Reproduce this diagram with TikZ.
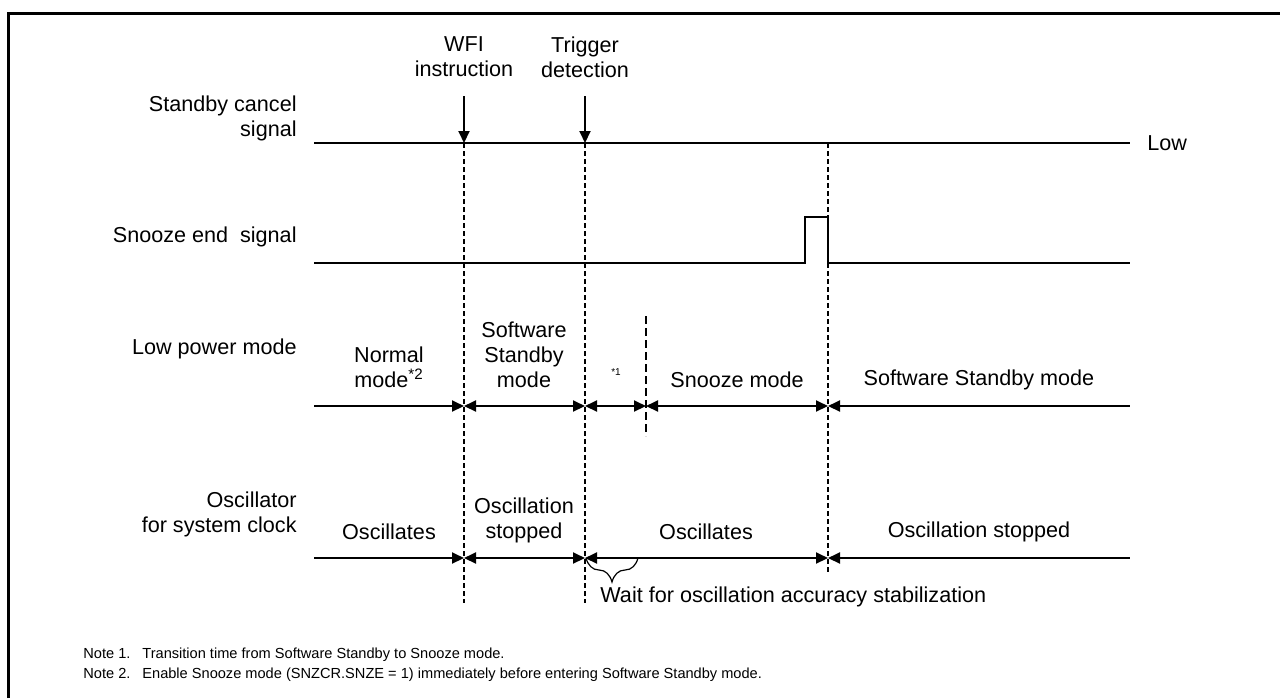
\documentclass[tikz,border=0pt]{standalone}
\usepackage{fontspec}
\setmainfont{Liberation Sans}
\usetikzlibrary{arrows.meta,decorations.pathreplacing}
\begin{document}
\begin{tikzpicture}[x=0.5pt,y=-0.5pt,
  lbl/.style={font=\fontsize{10.8}{12.5}\selectfont, inner sep=0pt, align=center},
  rowlbl/.style={lbl, anchor=east, align=right},
  notetxt/.style={font=\fontsize{7.3}{8}\selectfont, inner sep=0pt, anchor=base west},
  sig/.style={line width=1pt},
  vdash/.style={line width=0.6pt, dash pattern=on 2.5pt off 1.5pt},
  sdash/.style={line width=1pt, dash pattern=on 4pt off 2pt},
  tipend/.style={-{Triangle[length=6pt,width=5.5pt]}},
  tipstart/.style={{Triangle[length=6pt,width=5.5pt]}-},
  tipboth/.style={{Triangle[length=6pt,width=5.5pt]}-{Triangle[length=6pt,width=5.5pt]}},
  frame/.style={line width=1.5pt}
]
\useasboundingbox (0,0) rectangle (1280,698);
\fill[white] (0,0) rectangle (1280,698);
% frame
\coordinate (fbl) at (8.5,698);
\coordinate (ftl) at (8.5,13);
\coordinate (ftr) at (1280,13);
\draw[frame] (fbl) -- (ftl) -- (ftr);

% row labels
\node[rowlbl] (lcancel) at (297,118) {Standby cancel\\signal};
\node[rowlbl] (lsnooze) at (297,237) {Snooze end\ \ signal};
\node[rowlbl] (lmode) at (297,349) {Low power mode};
\node[rowlbl] (losc) at (297,514) {Oscillator\\for system clock};

% key x positions
\coordinate (a0) at (314,143);
\coordinate (a1) at (464,143);
\coordinate (a2) at (585,143);
\coordinate (a3) at (828,143);
\coordinate (a4) at (1130,143);
\node[lbl, anchor=west] (low) at (1147,143) {Low};

% standby cancel signal
\draw[sig] (a0) -- (a4);

% top labels and arrows
\node[lbl] (wfi) at (464,57) {WFI\\instruction};
\node[lbl] (trig) at (585,57) {Trigger\\detection};
\coordinate (wfiA) at (464,96);
\coordinate (trigA) at (585,96);
\draw[sig, tipend] (wfiA) -- (a1);
\draw[sig, tipend] (trigA) -- (a2);

% snooze end signal
\coordinate (s0) at (314,263);
\coordinate (s1) at (805,263);
\coordinate (s2) at (805,217);
\coordinate (s3) at (828,217);
\coordinate (s4) at (828,263);
\coordinate (s5) at (1130,263);
\draw[sig] (s0) -- (s1) -- (s2) -- (s3) -- (s4) -- (s5);

% vertical dashed lines
\coordinate (d1) at (464,603);
\coordinate (d2) at (585,603);
\coordinate (d3) at (828,572);
\draw[vdash] (a1) -- (d1);
\draw[vdash] (a2) -- (d2);
\draw[vdash] (a3) -- (d3);
\coordinate (e1) at (646,316);
\coordinate (e2) at (646,436);
\draw[sdash] (e1) -- (e2);

% low power mode row
\coordinate (m0) at (314,406);
\coordinate (m1) at (464,406);
\coordinate (m2) at (585,406);
\coordinate (m3) at (646,406);
\coordinate (m4) at (828,406);
\coordinate (m5) at (1130,406);
\draw[sig, tipend] (m0) -- (m1);
\draw[sig, tipboth] (m1) -- (m2);
\draw[sig, tipboth] (m2) -- (m3);
\draw[sig, tipboth] (m3) -- (m4);
\draw[sig, tipstart] (m4) -- (m5);

\node[lbl] (normal) at (389,367) {Normal\\mode\textsuperscript{*2}};
\node[lbl] (swsb1) at (524,355) {Software\\Standby\\mode};
\node[lbl, font=\fontsize{5}{6}\selectfont] (n1) at (616,372) {*1};
\node[lbl] (snz) at (737,380) {Snooze mode};
\node[lbl] (swsb2) at (979,380) {Software Standby mode};

% oscillator row
\coordinate (o0) at (314,558);
\coordinate (o1) at (464,558);
\coordinate (o2) at (585,558);
\coordinate (o3) at (828,558);
\coordinate (o4) at (1130,558);
\draw[sig, tipend] (o0) -- (o1);
\draw[sig, tipboth] (o1) -- (o2);
\draw[sig, tipboth] (o2) -- (o3);
\draw[sig, tipstart] (o3) -- (o4);

\node[lbl] (osc1) at (389,532) {Oscillates};
\node[lbl] (stop1) at (524,520) {Oscillation\\stopped};
\node[lbl] (osc2) at (706,532) {Oscillates};
\node[lbl] (stop2) at (979,532) {Oscillation stopped};

% brace
\coordinate (b0) at (586,558);
\coordinate (b1) at (638,558);
\draw[line width=0.6pt, decorate, decoration={brace, mirror, amplitude=12pt}] (b0) -- (b1);
\node[lbl, anchor=west] (wait) at (600,597) {Wait for oscillation accuracy stabilization};

% notes
\node[notetxt] (note1) at (83,658) {Note 1.};
\node[notetxt] (note1t) at (142,658) {Transition time from Software Standby to Snooze mode.};
\node[notetxt] (note2) at (83,678) {Note 2.};
\node[notetxt] (note2t) at (142,678) {Enable Snooze mode (SNZCR.SNZE = 1) immediately before entering Software Standby mode.};
\end{tikzpicture}
\end{document}
